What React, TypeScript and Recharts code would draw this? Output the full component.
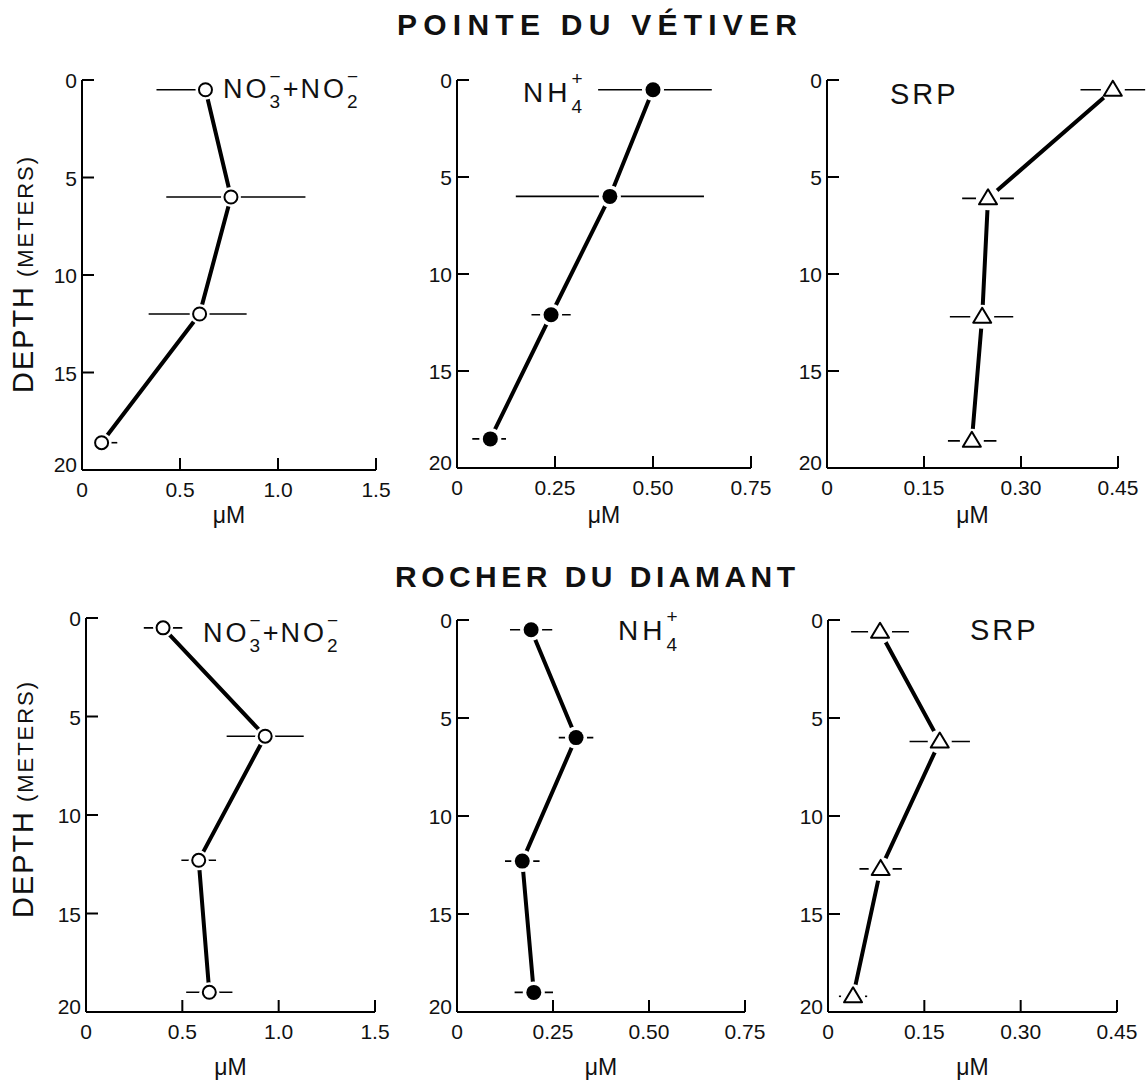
import React from 'react';
import { ScatterChart, Scatter, XAxis, YAxis, ErrorBar, ReferenceLine } from 'recharts';

// depth (m) and concentration (µM)
const depthTicks = [0, 5, 10, 15, 20];

const vetNoxDepth = [0.5, 6, 12, 18.6];
const vetNoxValue = [0.63, 0.76, 0.6, 0.1];
const vetNoxErr = [[0.25, 0.03], [0.33, 0.38], [0.26, 0.24], [0.04, 0.08]];

const vetNh4Depth = [0.5, 6, 12.1, 18.5];
const vetNh4Value = [0.5, 0.39, 0.24, 0.085];
const vetNh4Err = [[0.14, 0.15], [0.24, 0.24], [0.05, 0.05], [0.046, 0.04]];

const vetSrpDepth = [0.5, 6.1, 12.2, 18.6];
const vetSrpValue = [0.442, 0.249, 0.24, 0.224];
const vetSrpErr = [[0.05, 0.05], [0.04, 0.04], [0.05, 0.048], [0.037, 0.038]];

const diaNoxDepth = [0.5, 6, 12.3, 19];
const diaNoxValue = [0.4, 0.93, 0.585, 0.64];
const diaNoxErr = [[0.1, 0.1], [0.2, 0.2], [0.09, 0.09], [0.12, 0.12]];

const diaNh4Depth = [0.5, 6, 12.3, 19];
const diaNh4Value = [0.193, 0.31, 0.17, 0.2];
const diaNh4Err = [[0.055, 0.055], [0.045, 0.045], [0.045, 0.045], [0.05, 0.05]];

const diaSrpDepth = [0.6, 6.2, 12.7, 19.2];
const diaSrpValue = [0.081, 0.174, 0.082, 0.039];
const diaSrpErr = [[0.045, 0.045], [0.047, 0.047], [0.033, 0.033], [0.022, 0.022]];

const noxTicks = [0, 0.5, 1, 1.5];
const noxTickLabels = ['0', '0.5', '1.0', '1.5'];
const nh4Ticks = [0, 0.25, 0.5, 0.75];
const nh4TickLabels = ['0', '0.25', '0.50', '0.75'];
const srpTicks = [0, 0.15, 0.3, 0.45];
const srpTickLabels = ['0', '0.15', '0.30', '0.45'];

const FONT = '"Liberation Sans", Arial, sans-serif';

const panels = [
  { id: 'vn', left: 82, top: 80, axisW: 294, h: 390, max: 1.5, dom: 1.5, ticks: noxTicks, labels: noxTickLabels, depth: vetNoxDepth, value: vetNoxValue, err: vetNoxErr, marker: 'open' },
  { id: 'vh', left: 457, top: 80, axisW: 294, h: 388, max: 0.75, dom: 0.75, ticks: nh4Ticks, labels: nh4TickLabels, depth: vetNh4Depth, value: vetNh4Value, err: vetNh4Err, marker: 'filled' },
  { id: 'vs', left: 827, top: 80, axisW: 291, h: 388, max: 0.45, dom: 0.5, ticks: srpTicks, labels: srpTickLabels, depth: vetSrpDepth, value: vetSrpValue, err: vetSrpErr, marker: 'tri' },
  { id: 'dn', left: 86, top: 618, axisW: 289, h: 394, max: 1.5, dom: 1.5, ticks: noxTicks, labels: noxTickLabels, depth: diaNoxDepth, value: diaNoxValue, err: diaNoxErr, marker: 'open' },
  { id: 'dh', left: 457, top: 620, axisW: 288, h: 392, max: 0.75, dom: 0.75, ticks: nh4Ticks, labels: nh4TickLabels, depth: diaNh4Depth, value: diaNh4Value, err: diaNh4Err, marker: 'filled' },
  { id: 'ds', left: 828, top: 620, axisW: 289, h: 392, max: 0.45, dom: 0.45, ticks: srpTicks, labels: srpTickLabels, depth: diaSrpDepth, value: diaSrpValue, err: diaSrpErr, marker: 'tri' },
];

const Marker = ({ cx, cy, kind }: any) => {
  if (cx == null || cy == null) return null;
  if (kind === 'filled') {
    return (
      <g>
        <circle cx={cx} cy={cy} r={11} fill="#fff" />
        <circle cx={cx} cy={cy} r={7.5} fill="#000" />
      </g>
    );
  }
  if (kind === 'tri') {
    return (
      <g>
        <circle cx={cx} cy={cy} r={12} fill="#fff" />
        <polygon
          points={`${cx - 9},${cy + 6} ${cx + 9},${cy + 6} ${cx},${cy - 9}`}
          fill="#fff"
          stroke="#000"
          strokeWidth={2}
          strokeLinejoin="round"
        />
      </g>
    );
  }
  return (
    <g>
      <circle cx={cx} cy={cy} r={10} fill="#fff" />
      <circle cx={cx} cy={cy} r={6.5} fill="#fff" stroke="#000" strokeWidth={2} />
    </g>
  );
};

const YTick = ({ x, y, payload }: any) => (
  <g>
    <text x={x - 5} y={y} dy={payload.value === 20 ? 2 : 8} textAnchor="end" fontSize={21} fontFamily={FONT} fill="#111">
      {payload.value}
    </text>
    {payload.value !== 20 && <line x1={x} x2={x + 12} y1={y} y2={y} stroke="#000" strokeWidth={2} />}
  </g>
);

const XTick = ({ x, y, payload, ticks, labels }: any) => {
  const idx = ticks.indexOf(payload.value);
  return (
    <g>
      <text x={x} y={y + 27} textAnchor="middle" fontSize={21} fontFamily={FONT} fill="#111">
        {labels[idx]}
      </text>
      {payload.value !== 0 && <line x1={x} x2={x} y1={y} y2={y - 12} stroke="#000" strokeWidth={2} />}
    </g>
  );
};

const Panel = ({ p }: any) => {
  const data = p.depth.map((d: number, i: number) => ({ d, v: p.value[i], e: p.err[i] }));
  const plotW = (p.axisW * p.dom) / p.max;
  return (
    <div style={{ position: 'absolute', left: p.left - 60, top: p.top - 20 }}>
      <ScatterChart width={60 + plotW + 40} height={20 + p.h + 70} margin={{ top: 20, right: 40, bottom: 0, left: 0 }}>
        <XAxis
          type="number"
          dataKey="v"
          domain={[0, p.dom]}
          ticks={p.ticks}
          interval={0}
          axisLine={false}
          tickLine={false}
          tickSize={0}
          tickMargin={0}
          height={70}
          tick={(props: any) => <XTick {...props} ticks={p.ticks} labels={p.labels} />}
        />
        <YAxis
          type="number"
          dataKey="d"
          domain={[0, 20]}
          reversed
          ticks={depthTicks}
          interval={0}
          width={60}
          axisLine={{ stroke: '#000', strokeWidth: 2 }}
          tickLine={false}
          tickSize={0}
          tickMargin={0}
          tick={(props: any) => <YTick {...props} />}
        />
        <ReferenceLine
          segment={[{ x: 0, y: 20 }, { x: p.max, y: 20 }]}
          stroke="#000"
          strokeWidth={2}
          ifOverflow="visible"
        />
        <Scatter
          data={data}
          line={{ stroke: '#000', strokeWidth: 4 }}
          lineType="joint"
          shape={(props: any) => <Marker {...props} kind={p.marker} />}
          isAnimationActive={false}
        >
          <ErrorBar dataKey="e" direction="x" width={0} stroke="#000" strokeWidth={1.6} isAnimationActive={false} />
        </Scatter>
      </ScatterChart>
    </div>
  );
};

const NoxLabel = ({ x, y }: any) => (
  <text x={x} y={y} fontSize={27} fontFamily={FONT} fill="#111">
    <tspan letterSpacing={3}>NO</tspan>
    <tspan fontSize={19} dy={10}>3</tspan>
    <tspan fontSize={19} dx={-10.5} dy={-25}>−</tspan>
    <tspan dy={15} dx={2}>+</tspan>
    <tspan dx={2} letterSpacing={3}>NO</tspan>
    <tspan fontSize={19} dy={10}>2</tspan>
    <tspan fontSize={19} dx={-10.5} dy={-25}>−</tspan>
  </text>
);

const Nh4Label = ({ x, y }: any) => (
  <text x={x} y={y} fontSize={28} fontFamily={FONT} fill="#111">
    <tspan letterSpacing={4}>NH</tspan>
    <tspan fontSize={19} dy={11}>4</tspan>
    <tspan fontSize={19} dx={-10.5} dy={-28}>+</tspan>
  </text>
);

const SrpLabel = ({ x, y }: any) => (
  <text x={x} y={y} fontSize={29} fontFamily={FONT} fill="#111" letterSpacing={3}>
    SRP
  </text>
);

const DepthLabel = ({ cy }: any) => (
  <text
    transform={`translate(33, ${cy}) rotate(-90)`}
    textAnchor="middle"
    fontFamily={FONT}
    fill="#111"
    textLength={236}
    lengthAdjust="spacing"
  >
    <tspan fontSize={29}>DEPTH</tspan>
    <tspan fontSize={22} dx={8}>(METERS)</tspan>
  </text>
);

export default function App() {
  return (
    <div style={{ position: 'absolute', left: 0, top: 0, width: 1147, height: 1080, overflow: 'hidden', background: '#fff' }}>
      {panels.map((p) => (
        <Panel key={p.id} p={p} />
      ))}
      <svg width={1147} height={1080} style={{ position: 'absolute', left: 0, top: 0, pointerEvents: 'none' }}>
        <text x={597} y={35} textAnchor="middle" fontSize={30} fontWeight="bold" fontFamily={FONT} fill="#111" textLength={400} lengthAdjust="spacing">
          POINTE DU VÉTIVER
        </text>
        <text x={595} y={587} textAnchor="middle" fontSize={30} fontWeight="bold" fontFamily={FONT} fill="#111" textLength={400} lengthAdjust="spacing">
          ROCHER DU DIAMANT
        </text>
        <DepthLabel cy={275} />
        <DepthLabel cy={800} />
        <NoxLabel x={223} y={98} />
        <Nh4Label x={523} y={102} />
        <SrpLabel x={890} y={104} />
        <NoxLabel x={203} y={642} />
        <Nh4Label x={618} y={640} />
        <SrpLabel x={970} y={640} />
        {panels.map((p) => (
          <text
            key={p.id}
            x={p.left + p.axisW / 2}
            y={p.top < 300 ? 523 : 1075}
            textAnchor="middle"
            fontSize={23}
            fontFamily={FONT}
            fill="#111"
          >
            μM
          </text>
        ))}
      </svg>
    </div>
  );
}
